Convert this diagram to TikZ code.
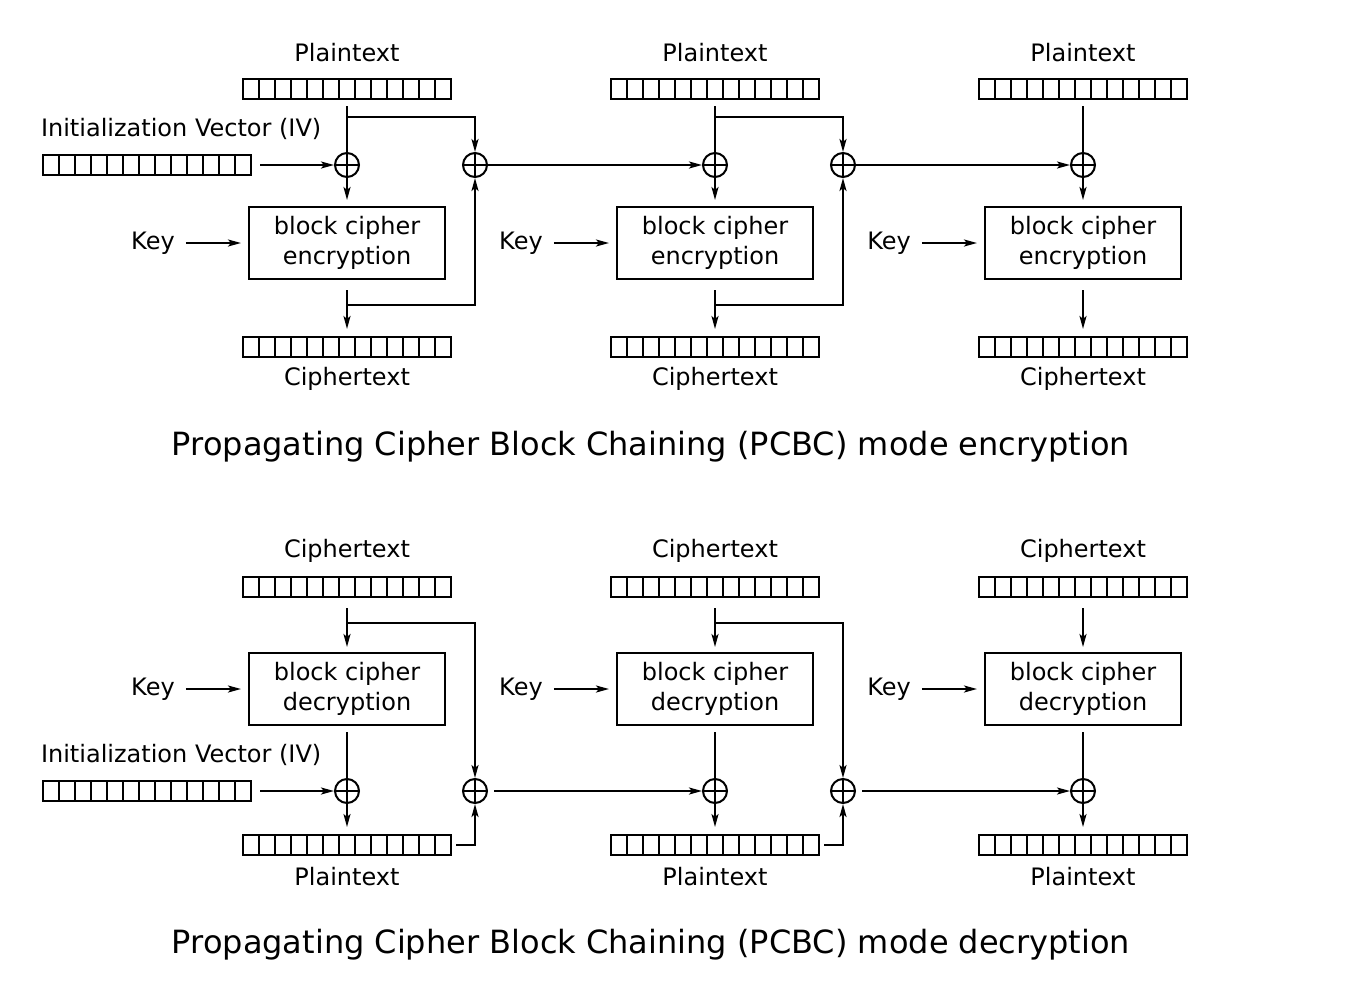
\documentclass[tikz,border=0pt]{standalone}
\usepackage{fontspec}
\setmainfont{DejaVu Sans}
\usetikzlibrary{arrows.meta,calc}
\tikzset{
  every path/.style={line width=2pt},
  lbl/.style={inner sep=0pt,font=\fontsize{24}{28}\selectfont},
  ttl/.style={inner sep=0pt,font=\fontsize{32}{38}\selectfont},
  reg/.style={draw,line width=2pt,minimum width=208pt,minimum height=20pt,inner sep=0pt,
    path picture={\foreach \k in {1,...,12}{\draw[line width=2pt] ([xshift=\k*16pt]path picture bounding box.south west) -- ([xshift=\k*16pt]path picture bounding box.north west);}}},
  xorn/.style={draw,circle,line width=2pt,minimum size=24pt,inner sep=0pt,
    path picture={\draw[line width=2pt] (path picture bounding box.north) -- (path picture bounding box.south) (path picture bounding box.west) -- (path picture bounding box.east);}},
  blk/.style={draw,line width=2pt,minimum width=196pt,minimum height=72pt,inner sep=0pt,align=center,font=\fontsize{24}{30}\selectfont},
  arr/.style={-{Stealth[length=13pt,width=7pt,inset=3pt]}},
}
\begin{document}
\begin{tikzpicture}[x=1pt,y=-1pt]
\useasboundingbox (0,0) rectangle (1360,1002);
% ---------------- encryption ----------------
\foreach \i/\cx in {1/347,2/715,3/1083}{
  \node[lbl] (eptl\i) at (\cx,53) {Plaintext};
  \node[reg] (ept\i) at (\cx,89) {};
  \node[xorn] (ex\i) at (\cx,165) {};
  \node[blk] (eb\i) at (\cx,243) {block cipher\\encryption};
  \node[lbl] (ek\i) at (\cx-194,243) {Key};
  \node[reg] (ect\i) at (\cx,347) {};
  \node[lbl] (ectl\i) at (\cx,379) {Ciphertext};
  \draw ([yshift=-6pt]ept\i.south) -- (ex\i.north);
  \draw[arr] (ex\i.south) -- ([yshift=6pt]eb\i.north);
  \draw[arr] ([xshift=10pt]ek\i.east) -- ([xshift=-7pt]eb\i.west);
  \draw[arr] ([yshift=-10pt]eb\i.south) -- ([yshift=7pt]ect\i.north);
}
\foreach \i/\cx in {1/347,2/715}{
  \node[xorn] (ey\i) at (\cx+128,165) {};
  \coordinate (ebt\i) at (\cx,117);
  \coordinate (ebb\i) at (\cx,305);
  \draw[arr] (ebt\i) -| (ey\i.north);
  \draw[arr] (ebb\i) -| (ey\i.south);
}
\draw[arr] (ey1.east) -- (ex2.west);
\draw[arr] (ey2.east) -- (ex3.west);
\node[lbl,anchor=west] (eivl) at (40,129) {Initialization Vector (IV)};
\node[reg] (eiv) at (147,165) {};
\draw[arr] ([xshift=8pt]eiv.east) -- (ex1.west);
\node[ttl] (etitle) at (651,447) {Propagating Cipher Block Chaining (PCBC) mode encryption};
% ---------------- decryption ----------------
\foreach \i/\cx in {1/347,2/715,3/1083}{
  \node[lbl] (dctl\i) at (\cx,551) {Ciphertext};
  \node[reg] (dct\i) at (\cx,587) {};
  \node[blk] (db\i) at (\cx,689) {block cipher\\decryption};
  \node[lbl] (dk\i) at (\cx-194,689) {Key};
  \node[xorn] (dx\i) at (\cx,791) {};
  \node[reg] (dpt\i) at (\cx,845) {};
  \node[lbl] (dptl\i) at (\cx,877) {Plaintext};
  \draw[arr] ([yshift=-10pt]dct\i.south) -- ([yshift=5pt]db\i.north);
  \draw ([yshift=-6pt]db\i.south) -- (dx\i.north);
  \draw[arr] ([xshift=10pt]dk\i.east) -- ([xshift=-7pt]db\i.west);
  \draw[arr] (dx\i.south) -- ([yshift=7pt]dpt\i.north);
}
\foreach \i/\cx in {1/347,2/715}{
  \node[xorn] (dy\i) at (\cx+128,791) {};
  \coordinate (dbt\i) at (\cx,623);
  \draw[arr] (dbt\i) -| (dy\i.north);
  \draw[arr] ([xshift=4pt]dpt\i.east) -| (dy\i.south);
}
\draw[arr] ([xshift=6pt]dy1.east) -- (dx2.west);
\draw[arr] ([xshift=6pt]dy2.east) -- (dx3.west);
\node[lbl,anchor=west] (divl) at (40,755) {Initialization Vector (IV)};
\node[reg] (div) at (147,791) {};
\draw[arr] ([xshift=8pt]div.east) -- (dx1.west);
\node[ttl] (dtitle) at (651,945) {Propagating Cipher Block Chaining (PCBC) mode decryption};
\end{tikzpicture}
\end{document}
